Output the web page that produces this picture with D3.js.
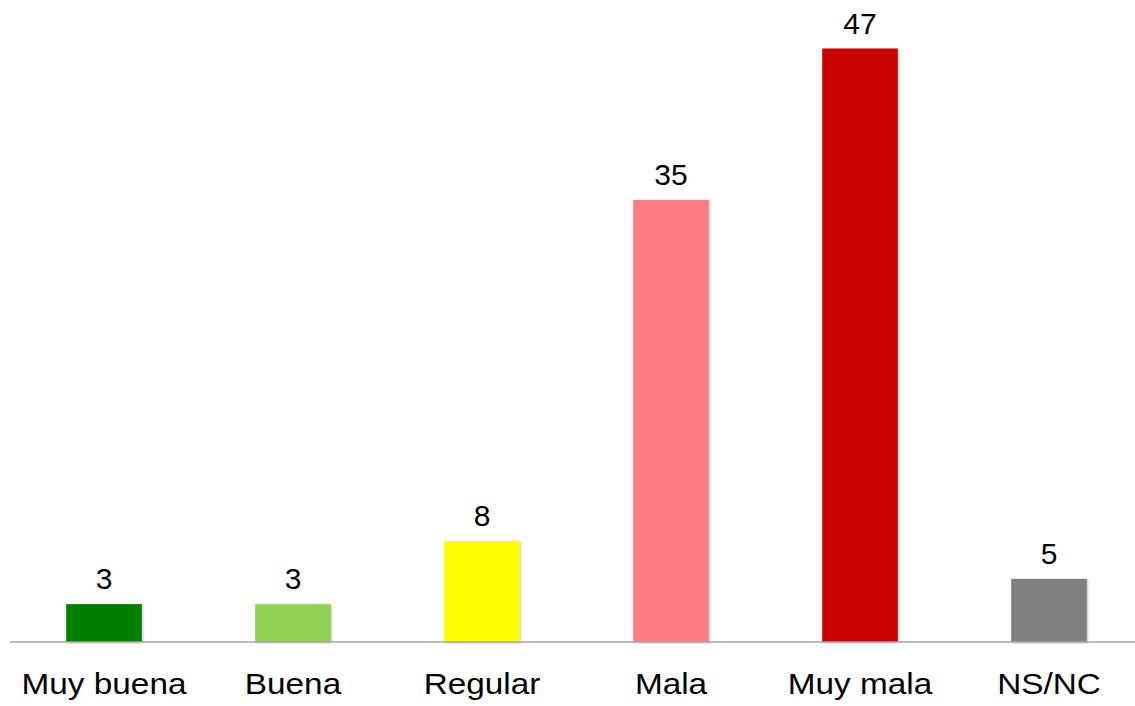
<!DOCTYPE html>
<html>
<head>
<meta charset="utf-8">
<script src="https://cdn.jsdelivr.net/npm/d3@7"></script>
<style>
  body { margin: 0; background: #fff; }
  svg { display: block; }
</style>
</head>
<body>
<svg id="chart"></svg>
<script>
const categories = ['Muy buena', 'Buena', 'Regular', 'Mala', 'Muy mala', 'NS/NC'];
const values = [3, 3, 8, 35, 47, 5];
const colors = ['#008000', '#92d050', '#ffff00', '#ff7c80', '#cc0000', '#808080'];

const width = 1135, height = 706;
const svg = d3.select('#chart').attr('width', width).attr('height', height);

const defs = svg.append('defs');
const shadow = defs.append('filter').attr('id', 'shadow')
    .attr('x', '-10%').attr('y', '-10%').attr('width', '130%').attr('height', '130%');
shadow.append('feDropShadow')
    .attr('dx', 1).attr('dy', 1).attr('stdDeviation', 1.2)
    .attr('flood-color', '#000').attr('flood-opacity', 0.25);

const xscale = d3.scaleBand()
    .domain(categories)
    .range([9.5, 1143.5])
    .paddingInner(0.6)
    .paddingOuter(0.3);

const yscale = d3.scaleLinear()
    .domain([0, 47])
    .range([642, 48.5]);

const data = categories.map((c, i) => ({ cat: c, value: values[i], color: colors[i] }));

svg.selectAll('rect.bar')
    .data(data)
    .join('rect')
    .attr('class', 'bar')
    .attr('x', d => xscale(d.cat))
    .attr('y', d => yscale(d.value))
    .attr('width', xscale.bandwidth())
    .attr('height', d => yscale(0) - yscale(d.value))
    .attr('fill', d => d.color)
    .attr('filter', 'url(#shadow)');

// baseline
svg.append('line')
    .attr('x1', 10).attr('x2', width)
    .attr('y1', yscale(0)).attr('y2', yscale(0))
    .attr('stroke', '#a6a6a6')
    .attr('stroke-width', 1.5);

// value labels
svg.selectAll('text.value')
    .data(data)
    .join('text')
    .attr('class', 'value')
    .attr('x', d => xscale(d.cat) + xscale.bandwidth() / 2)
    .attr('y', d => yscale(d.value) - 15)
    .attr('text-anchor', 'middle')
    .style('font-family', 'Liberation Sans, Arial, sans-serif')
    .style('font-size', '30px')
    .attr('fill', '#000')
    .text(d => d.value);

// category labels
svg.selectAll('text.cat')
    .data(data)
    .join('text')
    .attr('class', 'cat')
    .attr('transform', d => `translate(${xscale(d.cat) + xscale.bandwidth() / 2}, 693.5) scale(1.13, 1)`)
    .attr('text-anchor', 'middle')
    .style('font-family', 'Liberation Sans, Arial, sans-serif')
    .style('font-size', '29.5px')
    .attr('fill', '#000')
    .text(d => d.cat);
</script>
</body>
</html>
